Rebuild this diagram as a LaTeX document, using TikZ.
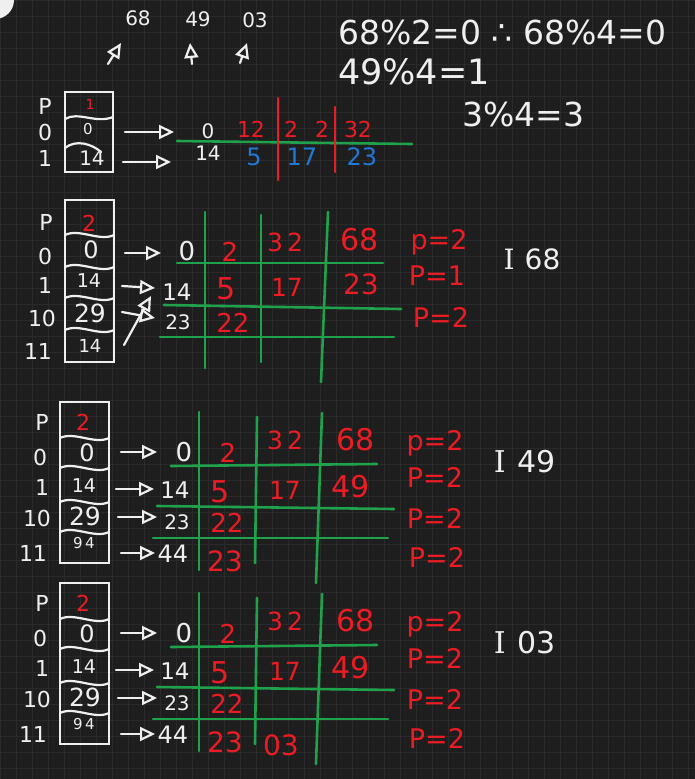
\documentclass[tikz,border=0pt]{standalone}
\usepackage{fontspec}
\setmainfont{DejaVu Sans}
\newfontfamily\serifI{DejaVu Serif}
\usetikzlibrary{arrows.meta}
\definecolor{bgc}{HTML}{1E1E1E}
\definecolor{gridc}{HTML}{2A2A2A}
\definecolor{wcol}{HTML}{EFEFEF}
\definecolor{rcol}{HTML}{EC1C24}
\definecolor{gcol}{HTML}{1FA24B}
\definecolor{bcol}{HTML}{2179D4}
\newcommand\fs[1]{\fontsize{#1}{#1}\selectfont}
\tikzset{
  lbl/.style={text=wcol, inner sep=0pt, font=\fs{22}},
  redt/.style={text=rcol, inner sep=0pt, font=\fs{27}},
  bluet/.style={text=bcol, inner sep=0pt, font=\fs{24}},
  wline/.style={draw=wcol, line width=2.2pt, line cap=round},
  boxn/.style={draw=wcol, line width=2.4pt, inner sep=0pt},
  gline/.style={draw=gcol, line width=2.6pt, line cap=round},
  rline/.style={draw=rcol, line width=2.4pt, line cap=round},
  arr/.style={draw=wcol, line width=2.2pt, line cap=round, -{Triangle[open,length=15pt,width=14pt]}},
}
\newcommand\wavy[3]{\draw[wline] (#1,#3) .. controls +(14,-7) and +(-14,7) .. (#2,#3);}
\newcommand\lowersec[3]{%
\begin{scope}[shift={(0,#1)}]
  \node[boxn, minimum width=49pt, minimum height=161pt] (#2box) at (84.5,482.5) {};
  \wavy{60}{109}{438}
  \wavy{60}{109}{468}
  \wavy{60}{109}{502}
  \wavy{60}{109}{532}
  \node[lbl] (#2lp) at (42,422) {P};
  \node[lbl] (#2l0) at (40,457) {0};
  \node[lbl] (#2l1) at (42,487) {1};
  \node[lbl] (#2l10) at (37,518) {10};
  \node[lbl] (#2l11) at (33,553) {11};
  \node[redt, font=\fs{22}] (#2cp) at (83,422) {2};
  \node[lbl, font=\fs{24}] (#2c0) at (87,453) {0};
  \node[lbl, font=\fs{19}] (#2c1) at (84,486) {14};
  \node[lbl, font=\fs{25}] (#2c10) at (85,516) {29};
  \node[lbl, font=\fs{15}] (#2c11) at (84,543) {9\,4};
  \coordinate (#2a0s) at (121,452); \coordinate (#2a0e) at (157,452);
  \coordinate (#2a1s) at (116,489); \coordinate (#2a1e) at (154,489);
  \coordinate (#2a2s) at (118,517); \coordinate (#2a2e) at (157,517);
  \coordinate (#2a3s) at (121,553); \coordinate (#2a3e) at (155,553);
  \draw[arr] (#2a0s) -- (#2a0e);
  \draw[arr] (#2a1s) -- (#2a1e);
  \draw[arr] (#2a2s) -- (#2a2e);
  \draw[arr] (#2a3s) -- (#2a3e);
  \node[lbl, font=\fs{26}] (#2r0) at (184,452) {0};
  \node[lbl, font=\fs{23}] (#2r1) at (175,490) {14};
  \node[lbl, font=\fs{20}] (#2r2) at (177,522) {23};
  \node[lbl, font=\fs{24}] (#2r3) at (173,554) {44};
  \draw[gline] (199,412) -- (199,570);
  \draw[gline] (257,417) -- (255,563);
  \draw[gline] (322,413) -- (316,583);
  \draw[gline] (171,466) -- (377,464);
  \draw[gline] (157,506) -- (394,509);
  \draw[gline] (153,538) -- (388,538);
  \node[redt, font=\fs{26}] (#2v00) at (228,453) {2};
  \node[redt, font=\fs{25}] (#2v01) at (285,440) {3\,2};
  \node[redt, font=\fs{30}] (#2v02) at (356,440) {68};
  \node[redt, font=\fs{30}] (#2v10) at (220,492) {5};
  \node[redt, font=\fs{25}] (#2v11) at (285,490) {17};
  \node[redt, font=\fs{30}] (#2v12) at (351,487) {49};
  \node[redt, font=\fs{26}] (#2v20) at (227,523) {22};
  \node[redt, font=\fs{28}] (#2v30) at (225,561) {23};
  \node[redt] (#2p0) at (435,443) {p=2};
  \node[redt] (#2p1) at (435,477) {P=2};
  \node[redt] (#2p2) at (435,518) {P=2};
  \node[redt] (#2p3) at (437,557) {P=2};
  \node[lbl, font=\fs{30}] (#2id) at (525,462) {{\serifI I}\hspace{12pt}#3};
\end{scope}}
\begin{document}
\begin{tikzpicture}[x=1pt,y=-1pt]
\useasboundingbox (0,0) rectangle (695,779);
\fill[bgc] (0,0) rectangle (695,779);
\foreach \i in {0,16,...,695} \draw[gridc, line width=0.6pt] (\i,0) -- (\i,779);
\foreach \j in {0,16,...,779} \draw[gridc, line width=0.6pt] (0,\j) -- (695,\j);
\fill[wcol] (-5,0) circle (19pt);
% ---- top: keys to insert
\node[lbl, font=\fs{20}] (k68) at (138,18) {68};
\node[lbl, font=\fs{20}] (k49) at (198,19) {49};
\node[lbl, font=\fs{20}] (k03) at (255,20) {03};
\coordinate (t1s) at (108,64); \coordinate (t1e) at (121,43);
\coordinate (t2s) at (192,64); \coordinate (t2e) at (190,43);
\coordinate (t3s) at (240,63); \coordinate (t3e) at (247,43);
\draw[arr] (t1s) -- (t1e);
\draw[arr] (t2s) -- (t2e);
\draw[arr] (t3s) -- (t3e);
\node[lbl, font=\fs{33}, anchor=west] (f1) at (338,32) {68\%2=0 ∴ 68\%4=0};
\node[lbl, font=\fs{35}, anchor=west] (f2) at (338,72) {49\%4=1};
\node[lbl, font=\fs{33}, anchor=west] (f3) at (462,114) {3\%4=3};
% ---- section 0
\node[boxn, minimum width=48pt, minimum height=80pt] (box0) at (89,132) {};
\draw[wline] (65,119) .. controls (78,111) and (96,124) .. (113,117);
\draw[wline] (65,148) .. controls (76,139) and (92,144) .. (101,152);
\node[lbl] (s0lp) at (45,106) {P};
\node[lbl] (s0l0) at (45,132) {0};
\node[lbl] (s0l1) at (45,158) {1};
\node[redt, font=\fs{14}] (s0cp) at (90,104) {1};
\node[lbl, font=\fs{15}] (s0c0) at (88,129) {0};
\node[lbl, font=\fs{20}] (s0c1) at (92,158) {14};
\coordinate (s0a0s) at (125,132); \coordinate (s0a0e) at (174,132);
\coordinate (s0a1s) at (123,162); \coordinate (s0a1e) at (171,162);
\draw[arr] (s0a0s) -- (s0a0e);
\draw[arr] (s0a1s) -- (s0a1e);
\node[lbl, font=\fs{20}] (s0r0) at (208,131) {0};
\node[lbl, font=\fs{20}] (s0r1) at (208,153) {14};
\draw[gline] (177,141) -- (412,144);
\draw[rline] (278,98) -- (278,180);
\draw[rline] (335,107) -- (335,172);
\node[redt, font=\fs{22}] (s0v0) at (251,129) {12};
\node[redt, font=\fs{22}] (s0v1) at (291,129) {2};
\node[redt, font=\fs{22}] (s0v2) at (322,129) {2};
\node[redt, font=\fs{22}] (s0v3) at (358,129) {32};
\node[bluet] (s0b0) at (254,157) {5};
\node[bluet] (s0b1) at (302,157) {17};
\node[bluet] (s0b2) at (362,157) {23};
% ---- section 1
\node[boxn, minimum width=49pt, minimum height=162pt] (box1) at (89.5,281) {};
\wavy{65}{114}{235}
\wavy{65}{114}{267}
\wavy{65}{114}{298}
\wavy{65}{114}{330}
\node[lbl] (s1lp) at (46,222) {P};
\node[lbl] (s1l0) at (45,256) {0};
\node[lbl] (s1l1) at (45,285) {1};
\node[lbl] (s1l10) at (42,318) {10};
\node[lbl] (s1l11) at (38,351) {11};
\node[redt, font=\fs{22}] (s1cp) at (89,223) {2};
\node[lbl, font=\fs{24}] (s1c0) at (91,250) {0};
\node[lbl, font=\fs{19}] (s1c1) at (89,281) {14};
\node[lbl, font=\fs{25}] (s1c10) at (90,313) {29};
\node[lbl, font=\fs{18}] (s1c11) at (90,346) {14};
\coordinate (s1a0s) at (125,253); \coordinate (s1a0e) at (161,253);
\coordinate (s1a1s) at (122,286); \coordinate (s1a1e) at (155,288);
\coordinate (s1a2s) at (122,312); \coordinate (s1a2e) at (155,318);
\coordinate (s1a3s) at (124,345); \coordinate (s1a3e) at (151,296);
\draw[arr] (s1a0s) -- (s1a0e);
\draw[arr] (s1a1s) -- (s1a1e);
\draw[arr] (s1a2s) -- (s1a2e);
\draw[arr] (s1a3s) -- (s1a3e);
\node[lbl, font=\fs{26}] (s1r0) at (187,251) {0};
\node[lbl, font=\fs{23}] (s1r1) at (177,292) {14};
\node[lbl, font=\fs{20}] (s1r2) at (178,322) {23};
\draw[gline] (205,212) -- (205,368);
\draw[gline] (261,215) -- (261,362);
\draw[gline] (328,212) -- (321,382);
\draw[gline] (177,263) -- (383,263);
\draw[gline] (164,305) -- (401,309);
\draw[gline] (160,337) -- (394,337);
\node[redt, font=\fs{26}] (s1v00) at (230,252) {2};
\node[redt, font=\fs{25}] (s1v01) at (285,242) {3\,2};
\node[redt, font=\fs{30}] (s1v02) at (360,240) {68};
\node[redt, font=\fs{30}] (s1v10) at (226,289) {5};
\node[redt, font=\fs{25}] (s1v11) at (287,287) {17};
\node[redt, font=\fs{28}] (s1v12) at (361,284) {23};
\node[redt, font=\fs{26}] (s1v20) at (233,323) {22};
\node[redt] (s1p0) at (439,242) {p=2};
\node[redt] (s1p1) at (437,276) {P=1};
\node[redt] (s1p2) at (441,317) {P=2};
\node[lbl, font=\fs{28}] (s1id) at (532,259) {{\serifI I}\hspace{10pt}68};
% ---- sections 2 and 3
\lowersec{0}{sa}{49}
\lowersec{181}{sb}{03}
\node[redt, font=\fs{28}] (sbv31) at (281,745) {03};
\end{tikzpicture}
\end{document}
